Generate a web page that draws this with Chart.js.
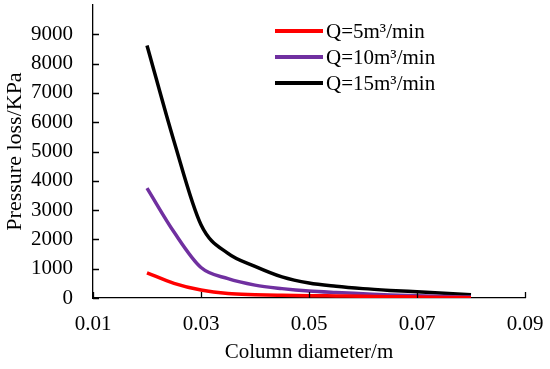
<!DOCTYPE html>
<html>
<head>
<meta charset="utf-8">
<script src="https://cdn.jsdelivr.net/npm/chart.js@4.4.0/dist/chart.umd.min.js"></script>
<style>
  html, body { margin: 0; padding: 0; background: #fff; }
  #wrap { width: 550px; height: 369px; }
</style>
</head>
<body>
<div id="wrap"><canvas id="chart"></canvas></div>
<script>
// Column diameter (m)
const DIAMETERS = [0.02, 0.025, 0.03, 0.035, 0.04, 0.045, 0.05, 0.055, 0.06, 0.065, 0.07, 0.075, 0.08];

// Pressure loss (KPa) per flow rate
const Q5 = [860, 500, 270, 150, 115, 95, 80, 70, 60, 45, 35, 20, 10];
const Q10 = [3750, 2250, 1040, 660, 440, 320, 235, 185, 145, 105, 75, 50, 30];
const Q15 = [8620, 5350, 2500, 1520, 1080, 720, 510, 400, 320, 260, 210, 160, 110];

const LABELS = ['Q=5m³/min', 'Q=10m³/min', 'Q=15m³/min'];
const COLORS = ['#ff0000', '#7030a0', '#000000'];

const X_TICKS = [0.01, 0.03, 0.05, 0.07, 0.09];
const Y_TICKS = [0, 1000, 2000, 3000, 4000, 5000, 6000, 7000, 8000, 9000];

const FONT = "'Liberation Serif', 'Times New Roman', serif";

function series(values) {
    return values.map((v, i) => ({ x: DIAMETERS[i], y: v }));
}

// Short tick marks pointing into the plot area
const innerTicks = {
    id: 'innerTicks',
    afterDraw(chart) {
        const ctx = chart.ctx;
        const xs = chart.scales.x;
        const ys = chart.scales.y;
        const area = chart.chartArea;
        ctx.save();
        ctx.strokeStyle = '#000';
        ctx.lineWidth = 1.3;
        ctx.beginPath();
        X_TICKS.forEach(t => {
            const px = Math.round(xs.getPixelForValue(t)) + 0.5;
            ctx.moveTo(px, area.bottom);
            ctx.lineTo(px, area.bottom - 6);
        });
        Y_TICKS.forEach(t => {
            const py = Math.round(ys.getPixelForValue(t)) + 0.5;
            ctx.moveTo(area.left, py);
            ctx.lineTo(area.left + 6, py);
        });
        ctx.stroke();
        ctx.restore();
    }
};

// Legend drawn inside the plot, top right
const lineLegend = {
    id: 'lineLegend',
    afterDraw(chart) {
        const ctx = chart.ctx;
        ctx.save();
        ctx.font = '21px ' + FONT;
        ctx.textBaseline = 'middle';
        ctx.textAlign = 'left';
        chart.data.datasets.forEach((ds, i) => {
            const y = 31 + i * 26;
            ctx.strokeStyle = ds.borderColor;
            ctx.lineWidth = 4;
            ctx.beginPath();
            ctx.moveTo(275, y);
            ctx.lineTo(323, y);
            ctx.stroke();
            ctx.fillStyle = '#000';
            ctx.fillText(ds.label, 326, y + 1);
        });
        ctx.restore();
    }
};

new Chart(document.getElementById('chart'), {
    type: 'line',
    data: {
        datasets: [Q5, Q10, Q15].map((vals, i) => ({
            label: LABELS[i],
            data: series(vals),
            borderColor: COLORS[i],
            backgroundColor: COLORS[i],
            borderWidth: 3.5,
            pointRadius: 0,
            cubicInterpolationMode: 'monotone',
            fill: false
        }))
    },
    options: {
        responsive: true,
        maintainAspectRatio: false,
        animation: false,
        layout: { padding: { top: 5, right: 25, left: 0, bottom: 0 } },
        plugins: {
            legend: { display: false },
            tooltip: { enabled: false }
        },
        scales: {
            x: {
                type: 'linear',
                min: 0.01,
                max: 0.09,
                afterBuildTicks: s => { s.ticks = X_TICKS.map(v => ({ value: v })); },
                afterFit: s => { s.height = 71; s.paddingLeft = 0; s.paddingRight = 0; },
                grid: { display: false, drawTicks: false },
                border: { display: true, color: '#000', width: 1.3 },
                ticks: {
                    color: '#000',
                    padding: 14,
                    maxRotation: 0,
                    font: { family: FONT, size: 21 },
                    callback: v => v.toFixed(2)
                },
                title: {
                    display: true,
                    text: 'Column diameter/m',
                    color: '#000',
                    font: { family: FONT, size: 21 },
                    padding: { top: 0, bottom: 4 }
                }
            },
            y: {
                min: 0,
                max: 10000,
                afterBuildTicks: s => { s.ticks = Y_TICKS.map(v => ({ value: v })); },
                afterFit: s => { s.width = 93; s.paddingTop = 0; s.paddingBottom = 0; },
                grid: { display: false, drawTicks: false },
                border: { display: true, color: '#000', width: 1.3 },
                ticks: {
                    color: '#000',
                    padding: 20,
                    font: { family: FONT, size: 21 },
                    callback: v => String(v)
                },
                title: {
                    display: true,
                    text: 'Pressure loss/KPa',
                    color: '#000',
                    font: { family: FONT, size: 22 },
                    padding: { top: 2, bottom: 0 }
                }
            }
        }
    },
    plugins: [innerTicks, lineLegend]
});
</script>
</body>
</html>
